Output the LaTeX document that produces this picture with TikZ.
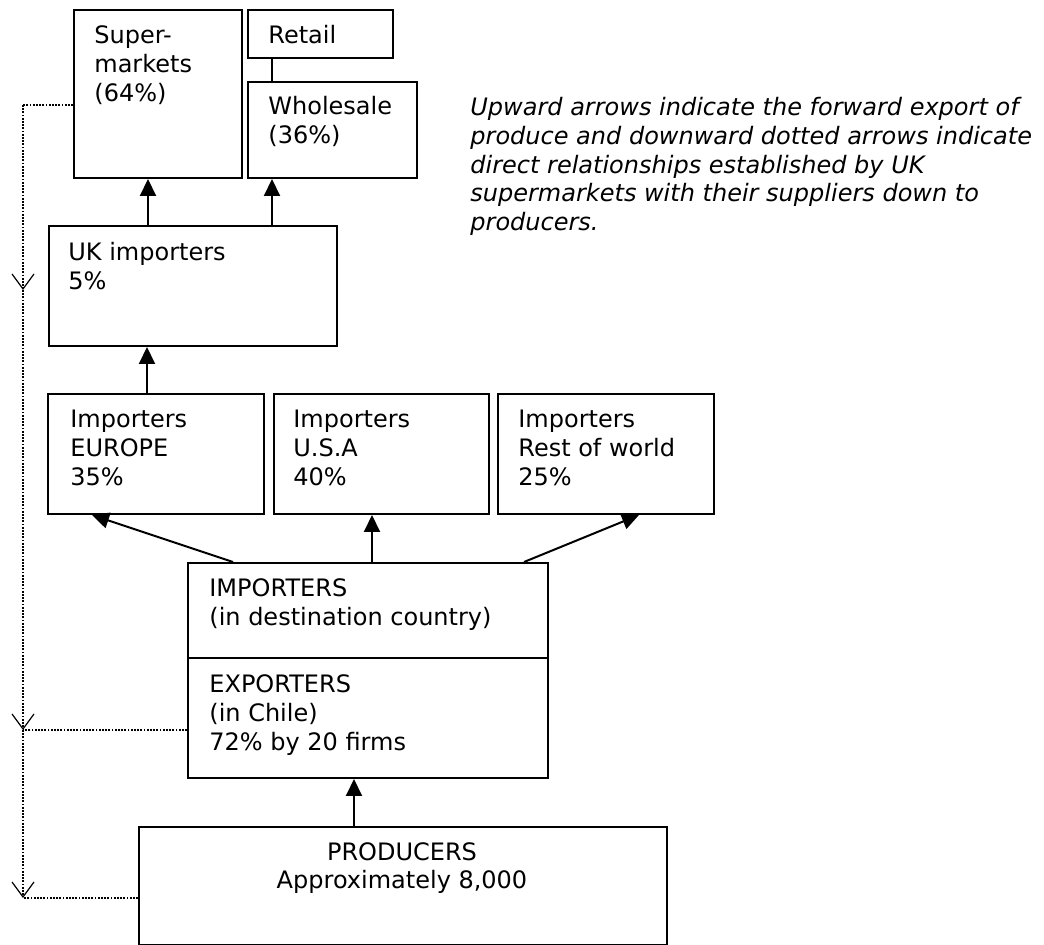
\documentclass[tikz,border=0pt]{standalone}
\usepackage{fontspec}
\setmainfont{DejaVu Sans}
\usetikzlibrary{arrows.meta}

% left-aligned stack of lines whose baseline is the first line
\newcommand{\boxlines}[1]{\begin{tabular}[t]{@{}l@{}}#1\end{tabular}}
\newcommand{\boxfont}{\fontsize{12pt}{14.3pt}\selectfont}

\begin{document}
\begin{tikzpicture}[x=0.5pt,y=-0.5pt,
  box/.style={draw, line width=1pt, inner sep=0pt, anchor=north west},
  txt/.style={inner sep=0pt, anchor=base west, font=\boxfont},
  up/.style={line width=1pt, -{Triangle[length=8.5pt,width=8pt]}},
  plain/.style={line width=1pt},
  link/.style={line width=1.1pt, dash pattern=on 0.9pt off 0.7pt},
  down/.style={link, -{Straight Barb[length=7.5pt,width=11pt,line width=0.6pt]}}]
\useasboundingbox (0,0) rectangle (1044,945);

% ---- boxes ----
\node[box, minimum width=84pt,  minimum height=84pt] (sup) at (73,9) {};
\node[box, minimum width=72.5pt,minimum height=24pt] (ret) at (247,9) {};
\node[box, minimum width=84.5pt,minimum height=48pt] (whl) at (247,81) {};
\node[box, minimum width=144pt, minimum height=60pt] (uki) at (48,225) {};
\node[box, minimum width=108pt, minimum height=60pt] (eur) at (47,393) {};
\node[box, minimum width=107.5pt,minimum height=60pt] (usa) at (273,393) {};
\node[box, minimum width=108pt, minimum height=60pt] (row) at (497,393) {};
\node[box, minimum width=180pt, minimum height=47.5pt] (imp) at (187,562) {};
\node[box, minimum width=180pt, minimum height=60pt] (exp) at (187,657) {};
\node[box, minimum width=264pt, minimum height=59pt] (pro) at (138,826) {};

% ---- box texts ----
\node[txt] (supT) at ([shift={(10.5pt,-17.5pt)}]sup.north west) {\boxlines{Super-\\markets\\(64\%)}};
\node[txt] (retT) at ([shift={(10.5pt,-17.5pt)}]ret.north west) {Retail};
\node[txt] (whlT) at ([shift={(10.5pt,-17pt)}]whl.north west) {\boxlines{Wholesale\\(36\%)}};
\node[txt] (ukiT) at ([shift={(10pt,-18pt)}]uki.north west) {\boxlines{UK importers\\5\%}};
\node[txt] (eurT) at ([shift={(11.5pt,-17.5pt)}]eur.north west) {\boxlines{Importers\\EUROPE\\35\%}};
\node[txt] (usaT) at ([shift={(10pt,-17.5pt)}]usa.north west) {\boxlines{Importers\\U.S.A\\40\%}};
\node[txt] (rowT) at ([shift={(10.5pt,-17.5pt)}]row.north west) {\boxlines{Importers\\Rest of world\\25\%}};
\node[txt] (impT) at ([shift={(11pt,-17.5pt)}]imp.north west) {\boxlines{IMPORTERS\\(in destination country)}};
\node[txt] (expT) at ([shift={(11pt,-18pt)}]exp.north west) {\boxlines{EXPORTERS\\(in Chile)\\72\% by 20 firms}};
\node[inner sep=0pt, anchor=base, font=\boxfont] (proT) at ([shift={(132pt,-17pt)}]pro.north west)
  {\begin{tabular}[t]{@{}c@{}}PRODUCERS\\Approximately 8,000\end{tabular}};

% ---- explanatory note ----
\node[txt, font=\boxfont\itshape] (note) at (470,116) {\boxlines{%
  Upward arrows indicate the forward export of\\
  produce and downward dotted arrows indicate\\
  direct relationships established by UK\\
  supermarkets with their suppliers down to\\
  producers.}};

% ---- upward flow of produce ----
\draw[plain] ([xshift=12.5pt]ret.south west) -- ([xshift=12.5pt]whl.north west);
\draw[up] ([xshift=50pt]uki.north west) -- ([xshift=50pt]uki.north west |- sup.south);
\draw[up] ([xshift=112pt]uki.north west) -- ([xshift=12.5pt]whl.south west);
\draw[up] ([xshift=50pt]eur.north west) -- ([xshift=50pt]eur.north west |- uki.south);
\draw[up] ([xshift=23pt]imp.north west) -- ([xshift=22.5pt]eur.south west);
\draw[up] ([xshift=92.5pt]imp.north west) -- ([xshift=92.5pt]imp.north west |- usa.south);
\draw[up] ([xshift=-12.5pt]imp.north east) -- ([xshift=71pt]row.south west);
\draw[up] ([xshift=108pt]pro.north west) -- ([xshift=108pt]pro.north west |- exp.south);

% ---- dotted direct links from the supermarkets ----
\coordinate (supL) at ([yshift=-48pt]sup.north west);
\coordinate (expL) at ([yshift=-36.5pt]exp.north west);
\coordinate (proL) at ([yshift=-36pt]pro.north west);
\coordinate (rail) at (23,105);
\coordinate (k1) at (23,290);
\coordinate (k2) at (rail |- expL);
\coordinate (k3) at (rail |- proL);
\draw[link] (supL) -- (rail);
\draw[down] (rail) -- (k1);
\draw[down] (k1) -- (k2);
\draw[down] (k2) -- (k3);
\draw[link] (expL) -- (k2);
\draw[link] (proL) -- (k3);
\end{tikzpicture}
\end{document}
